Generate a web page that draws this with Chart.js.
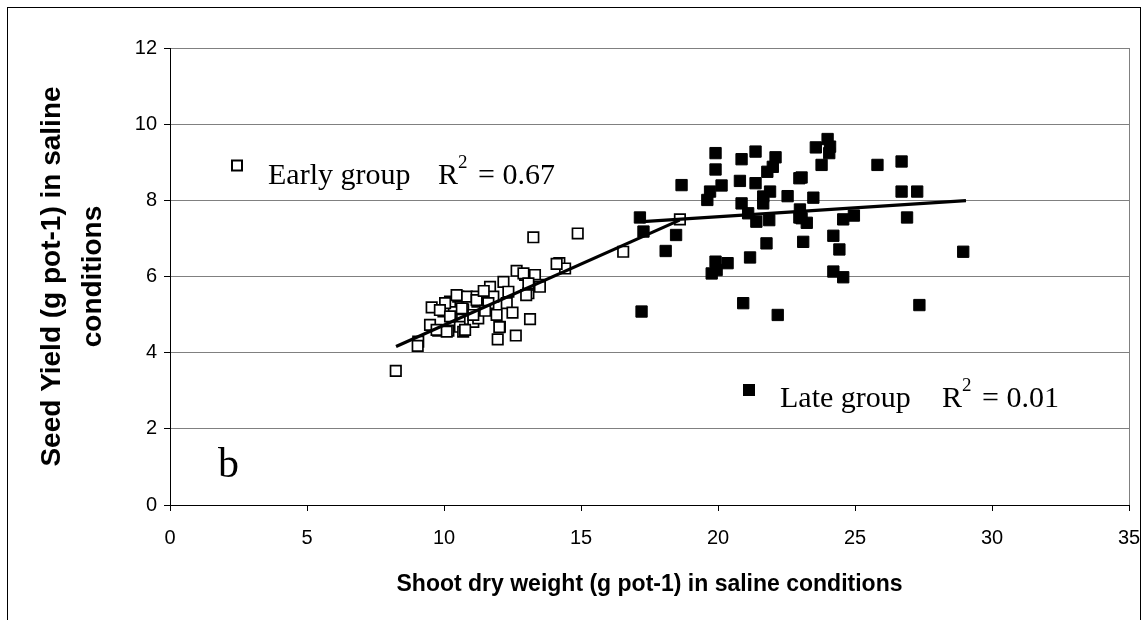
<!DOCTYPE html>
<html>
<head>
<meta charset="utf-8">
<script src="https://cdn.jsdelivr.net/npm/chart.js@4/dist/chart.umd.min.js"></script>
<style>
  html, body { margin: 0; padding: 0; background: #fff; }
  #wrap { position: relative; width: 1142px; height: 620px; }
</style>
</head>
<body>
<div id="wrap"><canvas id="myChart" width="1142" height="620"></canvas></div>
<script>
// early group: [shoot dry weight, seed yield]
const earlyPoints = [
  [8.24, 3.52], [9.06, 4.29], [9.04, 4.18], [9.49, 4.73], [9.55, 5.19], [9.79, 4.58],
  [10.16, 4.58], [10.22, 5.34], [9.98, 5.08], [10.28, 4.95], [10.52, 5.47], [10.83, 5.47],
  [10.58, 4.68], [10.7, 4.55], [10.7, 5.14], [10.95, 4.88], [11.07, 4.81], [11.19, 5.47],
  [11.22, 5.34], [11.25, 4.9], [11.68, 5.73], [11.8, 5.47], [11.62, 5.3], [11.92, 4.99],
  [12.04, 4.68], [11.96, 4.35], [12.17, 5.86], [12.35, 5.6], [12.29, 5.3], [12.62, 4.45],
  [13.14, 4.88], [12.96, 6.04], [13.14, 5.78], [13.32, 6.04], [13.08, 5.56], [13.44, 5.78],
  [13.26, 7.03], [14.88, 7.13], [14.21, 6.35], [14.42, 6.21], [16.54, 6.65], [18.61, 7.5],
  [12.65, 6.15], [13.5, 5.73], [13.0, 5.51], [10.04, 5.3], [10.46, 5.51], [11.19, 5.38],
  [10.65, 5.16], [9.85, 5.12], [10.22, 4.95], [9.73, 4.6], [10.1, 4.55], [10.77, 4.6],
  [11.07, 4.99], [14.11, 6.33], [12.9, 6.08], [13.08, 5.82], [12.02, 4.67], [11.5, 5.1],
  [11.45, 5.62], [12.5, 5.05]
];
// late group
const latePoints = [
  [17.15, 7.55], [17.28, 7.18], [18.47, 7.09], [18.09, 6.67], [17.21, 5.08], [18.67, 8.4],
  [19.91, 9.24], [19.91, 8.81], [20.13, 8.39], [19.71, 8.23], [19.61, 8.01], [20.86, 9.08],
  [20.8, 8.51], [21.37, 9.28], [21.37, 8.45], [22.1, 9.13], [22.0, 8.88], [21.8, 8.75],
  [21.9, 8.23], [21.65, 8.1], [21.65, 7.92], [20.86, 7.92], [21.1, 7.66], [21.4, 7.44],
  [21.87, 7.48], [22.54, 8.11], [22.97, 8.58], [22.97, 7.55], [21.77, 6.87], [21.17, 6.5],
  [19.91, 6.39], [20.35, 6.35], [19.77, 6.08], [19.95, 6.17], [20.92, 5.3], [22.18, 4.99],
  [24.0, 9.61], [24.09, 9.41], [24.06, 9.24], [23.57, 9.39], [23.78, 8.93], [23.05, 8.6],
  [25.82, 8.93], [26.7, 9.02], [26.7, 8.23], [27.27, 8.23], [23.48, 8.07], [22.99, 7.76],
  [23.05, 7.53], [23.24, 7.41], [24.57, 7.5], [24.96, 7.6], [26.9, 7.55], [23.11, 6.91],
  [24.21, 7.07], [24.43, 6.71], [24.21, 6.13], [24.57, 5.98], [28.95, 6.65], [27.35, 5.25]
];
// trend lines (end points)
const earlyTrend = [[8.25, 4.16], [18.6, 7.48]];
const lateTrend = [[17.25, 7.44], [29.05, 7.99]];

const xTicks = [0, 5, 10, 15, 20, 25, 30, 35];
const yTicks = [0, 2, 4, 6, 8, 10, 12];

const toXY = arr => arr.map(p => ({x: p[0], y: p[1]}));

// text boxes drawn on top, like the Excel text boxes
const notes = {
  id: 'notes',
  afterDraw(chart) {
    const c = chart.ctx;
    c.save();
    c.fillStyle = '#000';
    c.strokeStyle = '#000';
    c.textBaseline = 'alphabetic';
    c.textAlign = 'left';

    // early group label
    c.lineWidth = 2;
    c.strokeRect(232, 160.5, 10, 10);
    c.font = '30px "Liberation Serif"';
    c.fillText('Early group', 268, 184);
    c.fillText('R', 438, 184);
    c.font = '19px "Liberation Serif"';
    c.fillText('2', 458, 168);
    c.font = '30px "Liberation Serif"';
    c.fillText('= 0.67', 478, 184);

    // late group label
    c.fillRect(743, 384, 12, 12);
    c.fillText('Late group', 780, 407);
    c.fillText('R', 942, 407);
    c.font = '19px "Liberation Serif"';
    c.fillText('2', 962, 391);
    c.font = '30px "Liberation Serif"';
    c.fillText('= 0.01', 982, 407);

    // panel letter
    c.font = '42px "Liberation Serif"';
    c.fillText('b', 218, 477);

    // outer frame
    c.lineWidth = 1;
    c.strokeRect(7.5, 7.5, 1133, 700);
    c.restore();
  }
};

const ctx = document.getElementById('myChart');
new Chart(ctx, {
  type: 'scatter',
  data: {
    datasets: [
      {
        data: toXY(earlyTrend), showLine: true, borderColor: '#000', borderWidth: 3.2,
        pointRadius: 0, fill: false
      },
      {
        data: toXY(lateTrend), showLine: true, borderColor: '#000', borderWidth: 3.2,
        pointRadius: 0, fill: false
      },
      {
        label: 'Early group', data: toXY(earlyPoints), pointStyle: 'rect', pointRadius: 7.4,
        backgroundColor: '#fff', borderColor: '#000', borderWidth: 1.7
      },
      {
        label: 'Late group', data: toXY(latePoints), pointStyle: 'rect', pointRadius: 8,
        backgroundColor: '#000', borderColor: '#000', borderWidth: 1
      }
    ]
  },
  options: {
    responsive: false,
    animation: false,
    layout: { padding: { left: 8, right: 13, top: 48, bottom: 0 } },
    plugins: { legend: { display: false }, tooltip: { enabled: false } },
    scales: {
      x: {
        type: 'linear', min: 0, max: 35,
        afterBuildTicks: s => { s.ticks = xTicks.map(v => ({value: v})); },
        afterFit: s => { s.height = 115; s.paddingLeft = 0; s.paddingRight = 0; },
        border: { color: '#000', width: 1 },
        grid: {
          color: c => (c.tick && c.tick.value === 35) ? '#808080' : 'rgba(0,0,0,0)',
          tickColor: '#000', tickLength: 6
        },
        ticks: { color: '#000', padding: 15, font: { family: 'Liberation Sans', size: 20 } },
        title: {
          display: true, text: 'Shoot dry weight (g pot-1) in saline conditions',
          color: '#000', font: { family: 'Liberation Sans', size: 23, weight: 'bold' },
          padding: { top: 0, bottom: 22 }
        }
      },
      y: {
        type: 'linear', min: 0, max: 12,
        afterBuildTicks: s => { s.ticks = yTicks.map(v => ({value: v})); },
        afterFit: s => { s.width = 162; s.paddingTop = 0; s.paddingBottom = 0; },
        border: { color: '#000', width: 1 },
        grid: { color: '#808080', tickColor: '#000', tickLength: 6 },
        ticks: { color: '#000', padding: 7, font: { family: 'Liberation Sans', size: 20 } },
        title: {
          display: true, text: ['Seed Yield (g pot-1) in saline', 'conditions'],
          color: '#000', font: { family: 'Liberation Sans', size: 28, weight: 'bold', lineHeight: '41px' },
          padding: { top: 24, bottom: 0 }
        }
      }
    }
  },
  plugins: [notes]
});
</script>
</body>
</html>
